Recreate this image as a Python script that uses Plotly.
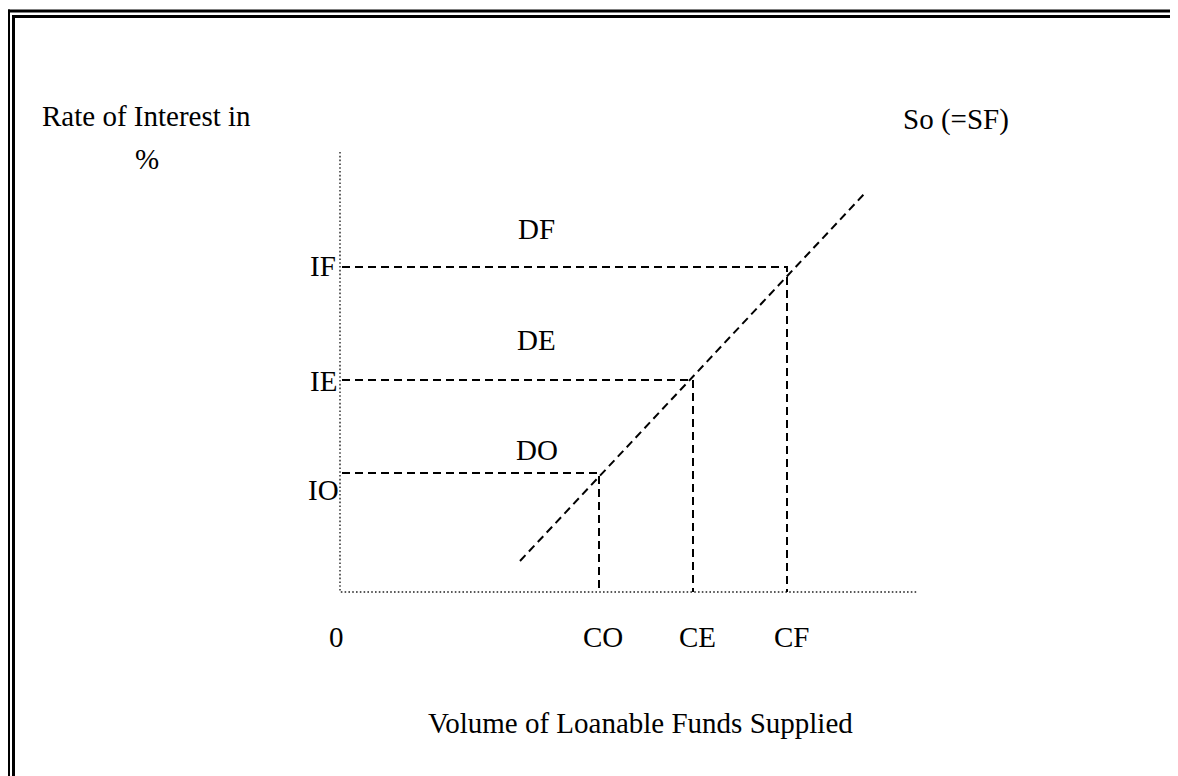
import plotly.graph_objects as go

# ---- data (abstract units; origin at the axes' corner) ----
quantity_labels = ["CO", "CE", "CF"]
quantity_values = [259, 353, 447]          # CO, CE, CF on the x axis
rate_labels = ["IO", "IE", "IF"]
rate_values = [119, 212, 325]              # IO, IE, IF on the y axis
demand_labels = ["DO", "DE", "DF"]
supply_x = [180, 526]                      # So (=SF) supply line
supply_y = [31, 400]
axis_x_max = 578
axis_y_max = 440

# page has an 8px body margin, so the figure is a bit smaller than the window
PAGE_OFF = 8
W, H = 1178 - PAGE_OFF, 776 - PAGE_OFF
X0 = 340 - PAGE_OFF          # origin x (px from left of figure)
Y0 = H - (592 - PAGE_OFF)    # origin y (px from bottom of figure)

FONT = dict(family="Liberation Serif, Times New Roman, serif", size=29, color="black")
DASH = dict(color="black", width=2, dash="8px,5px")
DOT = dict(color="#222222", width=1.4, dash="1.6px,2.2px")

fig = go.Figure()

# dotted axes
fig.add_trace(go.Scatter(x=[0, 0, axis_x_max], y=[axis_y_max, 0, 0], mode="lines",
                         line=DOT, hoverinfo="skip", showlegend=False))

# supply line
fig.add_trace(go.Scatter(x=supply_x, y=supply_y, mode="lines", line=DASH,
                         hoverinfo="skip", showlegend=False))

# equilibrium guide lines
for q, r in zip(quantity_values, rate_values):
    fig.add_trace(go.Scatter(x=[2, q, q], y=[r, r, 0], mode="lines", line=DASH,
                             hoverinfo="skip", showlegend=False))

def label(text, x, y):
    fig.add_annotation(x=x, y=y, text=text, showarrow=False, font=FONT,
                       xanchor="center", yanchor="middle")

# axis labels
label("Rate of Interest in", -194, 476)
label("%", -193, 433)
label("So (=SF)", 616, 473)
label("Volume of Loanable Funds Supplied", 300, -131)
label("0", -4, -45)

rate_label_pos = [(-17, 102), (-17, 211), (-17, 326)]
for t, (x, y) in zip(rate_labels, rate_label_pos):
    label(t, x, y)

demand_label_pos = [(197, 142), (196, 252), (196, 363)]
for t, (x, y) in zip(demand_labels, demand_label_pos):
    label(t, x, y)

for t, q in zip(quantity_labels, quantity_values):
    label(t, q + 4, -45)

# double frame (left and top edges visible); positions in reference pixels
def px(xr):  # reference page x -> data x
    return xr - PAGE_OFF - X0

def py(yr):  # reference page y -> data y
    return (H - (yr - PAGE_OFF)) - Y0

frame = dict(color="black", width=3)
for xo, yo in [(8.5, 11), (13.5, 16.4)]:
    fig.add_shape(type="line", x0=px(xo - 1.5), x1=px(1190), y0=py(yo), y1=py(yo), line=frame)
    fig.add_shape(type="line", x0=px(xo), x1=px(xo), y0=py(yo - 1.5), y1=py(790), line=frame)

fig.update_layout(
    width=W, height=H, autosize=False,
    margin=dict(l=0, r=0, t=0, b=0),
    paper_bgcolor="white", plot_bgcolor="white",
    xaxis=dict(range=[-X0, W - X0], visible=False, fixedrange=True),
    yaxis=dict(range=[-Y0, H - Y0], visible=False, fixedrange=True),
    showlegend=False,
)

fig.write_html("out.html")
